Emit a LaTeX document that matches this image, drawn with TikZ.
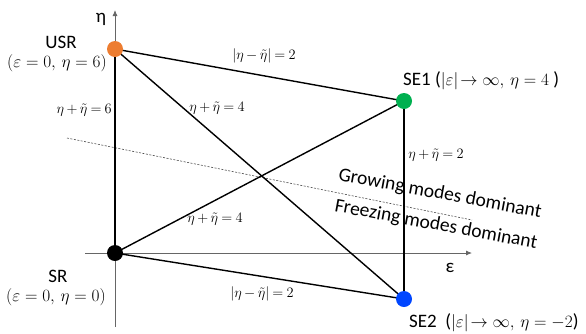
\documentclass[tikz,border=0pt]{standalone}
\usepackage{fontspec}
\setmainfont{Carlito}
\usetikzlibrary{arrows.meta}
\definecolor{dotorange}{RGB}{237,125,49}
\definecolor{dotgreen}{RGB}{0,176,80}
\definecolor{dotblue}{RGB}{0,70,255}
\newcommand{\mfs}[1]{{\fontsize{17}{19}\selectfont #1}}
\newcommand{\tightmath}{\thickmuskip=4mu\relax\medmuskip=3mu\relax}
\begin{document}
\begin{tikzpicture}[x=1pt,y=-1pt,
  axis/.style={draw=black!60, line width=0.8pt, -{Latex[length=6pt,width=5pt]}},
  edge/.style={draw=black, line width=1.4pt},
  pt/.style={circle, inner sep=0pt, minimum size=16pt},
  lbl/.style={font=\fontsize{19}{21}\selectfont, inner sep=0pt},
  eq/.style={font=\fontsize{15}{17}\selectfont\tightmath, inner sep=0pt},
  mode/.style={font=\fontsize{19.5}{21}\selectfont, inner sep=0pt, rotate=-10.5}]
\useasboundingbox (0,0) rectangle (586,333);
% axes
\coordinate (vb) at (115,327);
\coordinate (vt) at (115,10);
\coordinate (hl) at (85,253);
\coordinate (hr) at (472,253);
\draw[axis] (vb) -- (vt);
\draw[axis] (hl) -- (hr);
\node[lbl] (etaax) at (101,19) {η};
\node[lbl] (epsax) at (450,268) {ε};
% dotted divider
\coordinate (d1) at (67,138);
\coordinate (d2) at (472,220);
\draw[black!70, dash pattern=on 2pt off 1.5pt, line width=0.6pt] (d1) -- (d2);
% points
\coordinate (USR) at (115,49);
\coordinate (SE1) at (404,101);
\coordinate (SR) at (115,253);
\coordinate (SE2) at (404,299);
\draw[edge] (USR) -- (SE1);
\draw[edge] (USR) -- (SE2);
\draw[edge] (USR) -- (SR);
\draw[edge] (SR) -- (SE1);
\draw[edge] (SR) -- (SE2);
\draw[edge] (SE1) -- (SE2);
\node[pt, fill=dotorange] (nUSR) at (USR) {};
\node[pt, fill=dotgreen] (nSE1) at (SE1) {};
\node[pt, fill=black] (nSR) at (SR) {};
\node[pt, fill=dotblue] (nSE2) at (SE2) {};
% labels
\node[lbl] (tUSR) at (61,42) {USR};
\node[lbl] (tUSR2) at (57,63) {\mfs{$(\varepsilon=0,\,\eta=6)$}};
\node[lbl] (tSR) at (58,276) {SR};
\node[lbl] (tSR2) at (56,297) {\mfs{$(\varepsilon=0,\,\eta=0)$}};
\node[lbl, anchor=west] (tSE1) at (403,81) {SE1 (\mfs{$|\varepsilon|\!\rightarrow\infty,\,\eta=4$} )};
\node[lbl, anchor=west] (tSE2) at (409,323) {SE2\ \ (\mfs{$|\varepsilon|\!\rightarrow\infty,\,\eta=-2$})};
% equations
\node[eq] (e1) at (264,56) {$\left|\eta-\tilde\eta\right|=2$};
\node[eq, anchor=east] (e2) at (112,110) {$\eta+\tilde\eta=6$};
\node[eq] (e3) at (217,108) {$\eta+\tilde\eta=4$};
\node[eq] (e4) at (436,155) {$\eta+\tilde\eta=2$};
\node[eq] (e5) at (215,219) {$\eta+\tilde\eta=4$};
\node[eq] (e6) at (262,294) {$\left|\eta-\tilde\eta\right|=2$};
% region labels
\node[mode] (grow) at (440,194) {Growing modes dominant};
\node[mode] (freeze) at (436,225) {Freezing modes dominant};
\end{tikzpicture}
\end{document}
